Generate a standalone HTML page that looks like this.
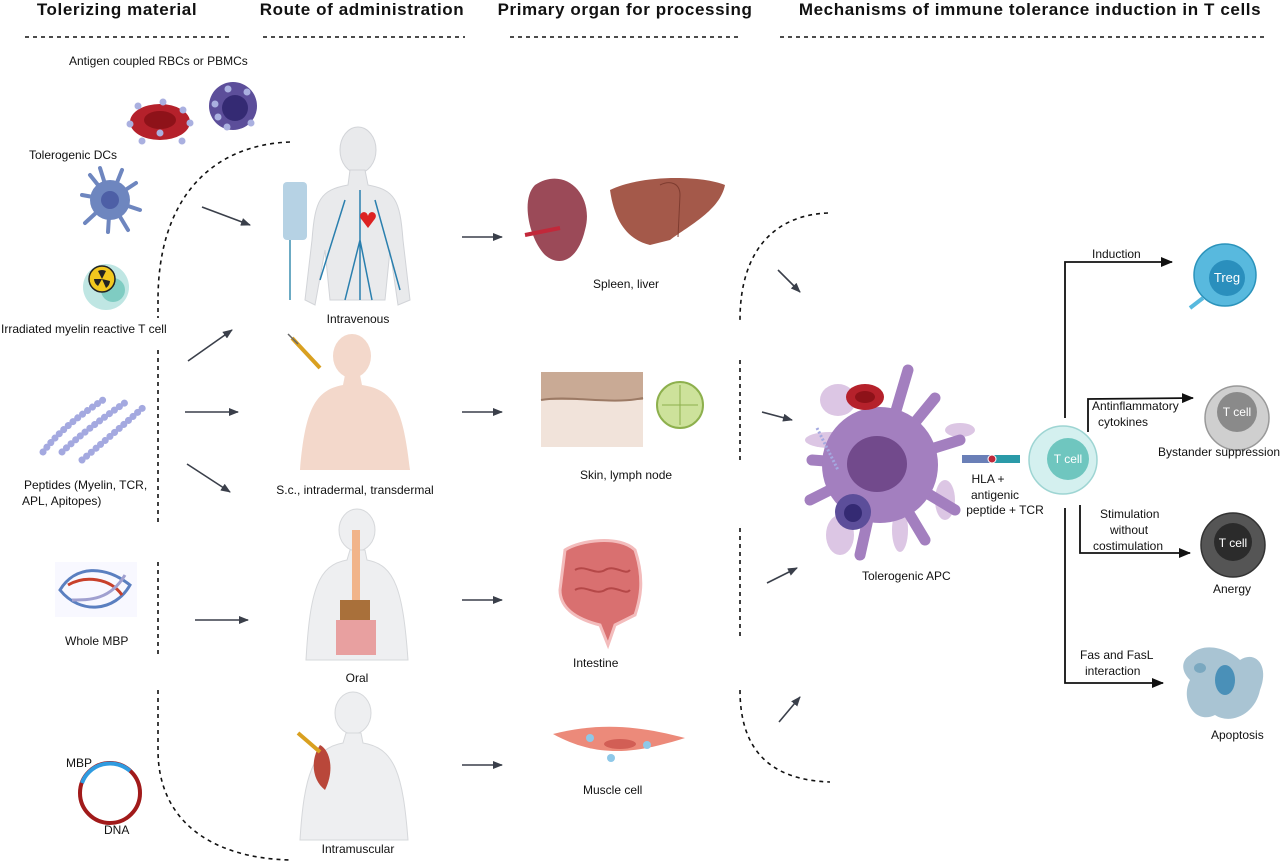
<!DOCTYPE html>
<html><head><meta charset="utf-8"><style>
body{margin:0;background:#fff}
svg{display:block;font-family:"Liberation Sans",sans-serif}
.h{font-size:17px;font-weight:bold;fill:#111;letter-spacing:0.6px}
.t{font-size:12px;fill:#111}
.d{stroke:#111;stroke-width:1.6;stroke-dasharray:4 4;fill:none}
.a{stroke:#3a3f4a;stroke-width:1.6;fill:none;marker-end:url(#ah)}
.k{stroke:#111;stroke-width:1.8;fill:none}
.kb{stroke:#111;stroke-width:1.8;fill:none;marker-end:url(#ak)}
</style></head><body>
<svg width="1280" height="864" viewBox="0 0 1280 864">
<defs>
<marker id="ah" markerWidth="10" markerHeight="8" refX="9" refY="4" orient="auto" markerUnits="userSpaceOnUse"><path d="M0,0 L10,4 L0,8z" fill="#3a3f4a"/></marker>
<marker id="ak" markerWidth="12" markerHeight="10" refX="11" refY="5" orient="auto" markerUnits="userSpaceOnUse"><path d="M0,0 L12,5 L0,10z" fill="#111"/></marker>
</defs>
<text class="h" x="117" y="15" text-anchor="middle">Tolerizing material</text>
<text class="h" x="362" y="15" text-anchor="middle">Route of administration</text>
<text class="h" x="625" y="15" text-anchor="middle">Primary organ for processing</text>
<text class="h" x="1030" y="15" text-anchor="middle">Mechanisms of immune tolerance induction  in T cells</text>
<line class="d" x1="25" y1="37" x2="233" y2="37"/>
<line class="d" x1="263" y1="37" x2="465" y2="37"/>
<line class="d" x1="510" y1="37" x2="740" y2="37"/>
<line class="d" x1="780" y1="37" x2="1268" y2="37"/>

<path class="d" d="M290,142 C210,145 158,200 158,300"/>
<line class="d" x1="158" y1="300" x2="158" y2="318"/>
<line class="d" x1="158" y1="350" x2="158" y2="525"/>
<line class="d" x1="158" y1="562" x2="158" y2="658"/>
<path class="d" d="M158,690 L158,750 C158,820 210,858 290,860"/>
<path class="d" d="M828,213 C775,215 740,250 740,320"/>
<line class="d" x1="740" y1="360" x2="740" y2="462"/>
<line class="d" x1="740" y1="528" x2="740" y2="640"/>
<path class="d" d="M740,690 C740,750 770,780 830,782"/>

<text class="t" x="69" y="65">Antigen coupled  RBCs or PBMCs</text>
<ellipse cx="160" cy="122" rx="30" ry="18" fill="#b5212b"/>
<ellipse cx="160" cy="120" rx="16" ry="9" fill="#8e1219"/>
<g fill="#aab0e0">
<circle cx="138" cy="106" r="3.5"/><circle cx="163" cy="102" r="3.5"/><circle cx="183" cy="110" r="3.5"/><circle cx="190" cy="123" r="3.5"/><circle cx="130" cy="124" r="3.5"/><circle cx="142" cy="141" r="3.5"/><circle cx="160" cy="133" r="3.5"/><circle cx="182" cy="141" r="3.5"/>
</g>
<circle cx="233" cy="106" r="24" fill="#5c4e9a"/>
<circle cx="235" cy="108" r="13" fill="#342a73"/>
<g fill="#aab0e0"><circle cx="228" cy="89" r="3.5"/><circle cx="247" cy="92" r="3.5"/><circle cx="215" cy="104" r="3.5"/><circle cx="218" cy="117" r="3.5"/><circle cx="227" cy="127" r="3.5"/><circle cx="251" cy="123" r="3.5"/></g>
<text class="t" x="29" y="159">Tolerogenic DCs</text>
<g fill="#6e86bf" stroke="#6e86bf" stroke-width="4" stroke-linecap="round">
<circle cx="110" cy="200" r="20" stroke="none"/>
<path d="M110,200 L100,168 M110,200 L122,170 M110,200 L136,183 M110,200 L140,210 M110,200 L128,230 M110,200 L108,232 M110,200 L85,223 M110,200 L82,195 M110,200 L90,175" fill="none"/>
</g>
<circle cx="110" cy="200" r="9" fill="#4d5fa6"/>
<circle cx="106" cy="287" r="23" fill="#bfe6e3"/>
<circle cx="113" cy="290" r="12" fill="#7fccc2"/>
<circle cx="102" cy="279" r="13" fill="#f2c81e" stroke="#222" stroke-width="1.5"/>
<path d="M102,279 l-4,-8 a9,9 0 0,1 8,0z M102,279 l8,2 a9,9 0 0,1 -4,7z M102,279 l-4,7 a9,9 0 0,1 -4,-7z" fill="#222"/>
<text class="t" x="1" y="333">Irradiated myelin reactive T cell</text>
<g fill="none" stroke="#a4a9e0" stroke-width="7" stroke-dasharray="0.1 6" stroke-linecap="round">
<path d="M43,452 C60,430 80,415 106,398"/>
<path d="M62,452 C80,435 100,420 126,402"/>
<path d="M82,460 C100,445 120,428 146,405"/>
</g>
<text class="t" x="24" y="489">Peptides  (Myelin, TCR,</text>
<text class="t" x="22" y="505">APL, Apitopes)</text>
<rect x="55" y="562" width="82" height="55" fill="#eef" opacity="0.4"/>
<g fill="none" stroke-width="3">
<path d="M60,590 C75,565 105,565 130,585 C115,612 80,615 60,590z" stroke="#5a7fc0"/>
<path d="M68,585 C85,575 110,578 122,595" stroke="#c8402a"/>
<path d="M72,600 C90,600 110,600 125,575" stroke="#a0a0d0"/>
</g>
<text class="t" x="65" y="645">Whole MBP</text>
<circle cx="110" cy="793" r="30" fill="none" stroke="#a11a1a" stroke-width="4"/>
<path d="M82,783 A30,30 0 0,1 130,771" fill="none" stroke="#2f9be0" stroke-width="4"/>
<text class="t" x="66" y="767">MBP</text>
<text class="t" x="104" y="834">DNA</text>

<line class="a" x1="202" y1="207" x2="250" y2="225"/>
<line class="a" x1="188" y1="361" x2="232" y2="330"/>
<line class="a" x1="185" y1="412" x2="238" y2="412"/>
<line class="a" x1="187" y1="464" x2="230" y2="492"/>
<line class="a" x1="195" y1="620" x2="248" y2="620"/>

<g fill="#e9eaec" stroke="#d2d4d8">
<ellipse cx="358" cy="150" rx="18" ry="23"/>
<path d="M350,170 L365,170 L368,185 C395,190 400,200 403,240 L410,300 L398,305 L390,250 L385,300 L330,300 L325,250 L315,305 L305,300 L312,240 C315,200 320,190 348,185z"/>
</g>
<rect x="283" y="182" width="24" height="58" rx="4" fill="#b6d2e4"/>
<line x1="290" y1="240" x2="290" y2="300" stroke="#3a8fb0" stroke-width="1.5"/>
<g stroke="#2a7fae" stroke-width="1.5" fill="none">
<path d="M360,190 L360,300 M360,240 L345,300 M360,240 L372,300 M345,200 L320,280 M375,200 L400,290"/>
</g>
<path d="M362,220 c-6,-6 4,-12 6,-4 c2,-8 12,-2 6,4 l-6,8z" fill="#d22"/>
<text class="t" x="358" y="323" text-anchor="middle">Intravenous</text>

<g fill="#f3d8cb">
<ellipse cx="352" cy="356" rx="19" ry="22"/>
<path d="M345,375 L360,375 L362,385 C395,390 403,410 410,470 L300,470 C305,410 315,390 343,385z"/>
</g>
<path d="M292,338 L320,368" stroke="#d9a020" stroke-width="4"/>
<path d="M288,334 L298,344" stroke="#666" stroke-width="1.5"/>
<text class="t" x="355" y="494" text-anchor="middle">S.c., intradermal, transdermal</text>

<g fill="#eeeff1" stroke="#d6d8db">
<ellipse cx="357" cy="530" rx="18" ry="21"/>
<path d="M350,550 L365,550 L367,560 C395,565 403,590 408,660 L306,660 C310,590 318,565 347,560z"/>
</g>
<rect x="352" y="530" width="8" height="70" fill="#f1b48a"/>
<rect x="340" y="600" width="30" height="20" fill="#a9703a"/>
<path d="M336,620 h40 v35 h-40z" fill="#e8a0a0"/>
<text class="t" x="357" y="682" text-anchor="middle">Oral</text>

<g fill="#eeeff1" stroke="#d6d8db">
<ellipse cx="353" cy="713" rx="18" ry="21"/>
<path d="M346,733 L361,733 L363,743 C395,748 403,775 408,840 L300,840 C304,775 313,748 343,743z"/>
</g>
<path d="M320,745 C330,750 335,770 325,790 C312,780 310,760 320,745z" fill="#b9473a"/>
<path d="M298,733 L320,752" stroke="#d9a020" stroke-width="4"/>
<text class="t" x="358" y="853" text-anchor="middle">Intramuscular</text>

<line class="a" x1="462" y1="237" x2="502" y2="237"/>
<line class="a" x1="462" y1="412" x2="502" y2="412"/>
<line class="a" x1="462" y1="600" x2="502" y2="600"/>
<line class="a" x1="462" y1="765" x2="502" y2="765"/>

<path d="M535,185 C565,165 595,195 585,230 C578,260 560,268 545,255 C530,240 520,200 535,185z" fill="#9b4a58"/>
<path d="M525,235 L560,228" stroke="#c2283a" stroke-width="4"/>
<path d="M610,190 C640,175 700,175 725,185 C720,210 690,225 670,240 L650,245 C630,240 615,225 610,190z" fill="#a4594a"/>
<path d="M660,185 C670,180 680,183 680,195 L678,237" stroke="#7e3c30" fill="none"/>
<text class="t" x="593" y="288">Spleen, liver</text>

<rect x="541" y="372" width="102" height="75" fill="#f1e3da"/>
<rect x="541" y="372" width="102" height="28" fill="#c9aa95"/>
<path d="M541,400 C570,395 610,405 643,398" stroke="#9c7a65" fill="none" stroke-width="2"/>
<circle cx="680" cy="405" r="23" fill="#cde29b" stroke="#8db04d" stroke-width="2"/>
<path d="M680,385 v40 M662,405 h36" stroke="#8db04d"/>
<text class="t" x="580" y="479">Skin, lymph node</text>

<path d="M565,550 C580,540 620,535 635,550 C645,580 640,600 635,615 L615,625 L608,645 L600,625 C580,620 560,610 560,590 z" fill="#d97070" stroke="#f3bcbc" stroke-width="3"/>
<path d="M575,570 c10,-6 20,6 30,0 c10,-6 20,6 25,0 M575,590 c10,-6 20,6 30,0 c10,-6 20,6 25,0" stroke="#b54848" fill="none" stroke-width="2"/>
<text class="t" x="573" y="667">Intestine</text>

<path d="M553,734 C600,722 640,726 685,738 C640,752 600,760 553,734z" fill="#ec8a7a"/>
<ellipse cx="620" cy="744" rx="16" ry="5" fill="#d25e55"/>
<circle cx="590" cy="738" r="4" fill="#8ec8e8"/><circle cx="647" cy="745" r="4" fill="#8ec8e8"/><circle cx="611" cy="758" r="4" fill="#8ec8e8"/>
<text class="t" x="583" y="794">Muscle cell</text>

<line class="a" x1="778" y1="270" x2="800" y2="292"/>
<line class="a" x1="762" y1="412" x2="792" y2="420"/>
<line class="a" x1="767" y1="583" x2="797" y2="568"/>
<line class="a" x1="779" y1="722" x2="800" y2="697"/>

<g fill="#dcc6e4">
<ellipse cx="838" cy="400" rx="18" ry="16"/><ellipse cx="960" cy="430" rx="15" ry="7"/><ellipse cx="945" cy="500" rx="10" ry="20"/><ellipse cx="900" cy="530" rx="8" ry="22"/><ellipse cx="840" cy="535" rx="14" ry="20"/><ellipse cx="830" cy="440" rx="25" ry="8"/>
</g>
<g stroke="#a37fbf" stroke-width="11" stroke-linecap="round" fill="none">
<path d="M880,465 L908,370"/><path d="M880,465 L935,398"/><path d="M880,465 L812,460"/><path d="M880,465 L810,500"/><path d="M880,465 L925,540"/><path d="M880,465 L860,555"/><path d="M880,465 L955,510"/><path d="M880,465 L960,440"/>
</g>
<circle cx="880" cy="465" r="58" fill="#a37fbf"/>
<ellipse cx="877" cy="464" rx="30" ry="28" fill="#724a8c"/>
<ellipse cx="865" cy="397" rx="19" ry="13" fill="#b5212b"/>
<ellipse cx="865" cy="397" rx="10" ry="6" fill="#8e1219"/>
<circle cx="853" cy="512" r="18" fill="#5c4e9a"/>
<circle cx="853" cy="513" r="9" fill="#342a73"/>
<path d="M817,428 L838,470" stroke="#a4a9e0" stroke-width="3" stroke-dasharray="2 2"/>
<rect x="962" y="455" width="30" height="8" fill="#6a7fb7"/>
<rect x="992" y="455" width="28" height="8" fill="#2a9aa8"/>
<circle cx="992" cy="459" r="4" fill="#c0283a" stroke="#fff"/>
<text class="t" x="862" y="580">Tolerogenic APC</text>
<text class="t" x="988" y="483" text-anchor="middle">HLA +</text>
<text class="t" x="995" y="499" text-anchor="middle">antigenic</text>
<text class="t" x="1005" y="514" text-anchor="middle">peptide +  TCR</text>

<circle cx="1063" cy="460" r="34" fill="#d4f0ef" stroke="#9ed5d3" stroke-width="1.5"/>
<circle cx="1068" cy="459" r="21" fill="#6fc6bf"/>
<text x="1068" y="463" font-size="12" fill="#fff" text-anchor="middle">T cell</text>

<path class="kb" d="M1065,418 L1065,262 L1172,262"/>
<text class="t" x="1092" y="258">Induction</text>
<path class="kb" d="M1088,432 L1088,399 L1193,398"/>
<text class="t" x="1092" y="410">Antinflammatory</text>
<text class="t" x="1098" y="426">cytokines</text>
<path class="kb" d="M1080,505 L1080,553 L1190,553"/>
<text class="t" x="1100" y="518">Stimulation</text>
<text class="t" x="1110" y="534">without</text>
<text class="t" x="1093" y="550">costimulation</text>
<path class="kb" d="M1065,508 L1065,683 L1163,683"/>
<text class="t" x="1080" y="659">Fas and FasL</text>
<text class="t" x="1085" y="675">interaction</text>

<circle cx="1225" cy="275" r="31" fill="#58b9de" stroke="#2b93bb" stroke-width="1.5"/>
<circle cx="1227" cy="278" r="18" fill="#2a8fbd"/>
<text x="1227" y="282" font-size="13" fill="#fff" text-anchor="middle">Treg</text>
<path d="M1203,298 L1190,308" stroke="#58b9de" stroke-width="4"/>
<circle cx="1237" cy="418" r="32" fill="#cfcfcf" stroke="#999" stroke-width="1.5"/>
<circle cx="1237" cy="412" r="20" fill="#8a8a8a"/>
<text x="1237" y="416" font-size="12" fill="#fff" text-anchor="middle">T cell</text>
<text class="t" x="1158" y="456">Bystander suppression</text>
<circle cx="1233" cy="545" r="32" fill="#555" stroke="#333" stroke-width="1.5"/>
<circle cx="1233" cy="542" r="19" fill="#2b2b2b"/>
<text x="1233" y="547" font-size="12" fill="#fff" text-anchor="middle">T cell</text>
<text class="t" x="1213" y="593">Anergy</text>
<path d="M1190,655 C1205,640 1230,650 1240,660 C1255,650 1270,665 1260,690 C1255,715 1230,725 1215,715 C1195,725 1180,700 1190,680 C1180,670 1182,660 1190,655z" fill="#a9c4d3"/>
<ellipse cx="1225" cy="680" rx="10" ry="15" fill="#4a90b8"/>
<ellipse cx="1200" cy="668" rx="6" ry="5" fill="#7aa8c0"/>
<text class="t" x="1211" y="739">Apoptosis</text>
</svg>
</body></html>
